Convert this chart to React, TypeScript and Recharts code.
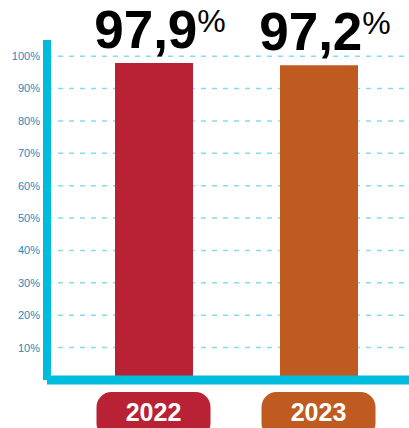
import React from 'react';
import { BarChart, Bar, XAxis, YAxis, CartesianGrid, Cell, LabelList } from 'recharts';

const years = ['2022', '2023'];
const rates = [97.9, 97.2];
const yTicks = [10, 20, 30, 40, 50, 60, 70, 80, 90, 100];

const BAR_COLORS = ['#b92234', '#bf5b20'];
const AXIS_COLOR = '#00bcdc';

const data = years.map((year, i) => ({ year, rate: rates[i] }));

const fmt = (v: number) => v.toFixed(1).replace('.', ',');

const YearTick = (props: any) => {
  const { x, y, payload, index } = props;
  const color = BAR_COLORS[index % BAR_COLORS.length];
  return (
    <g>
      <rect x={x - 57} y={y + 12} width={114} height={46} rx={15} ry={15} fill={color} />
      <text
        x={x}
        y={y + 41}
        textAnchor="middle"
        fill="#fff"
        fontSize={25}
        fontWeight="bold"
        fontFamily="'Liberation Sans', Arial, sans-serif"
      >
        {payload.value}
      </text>
    </g>
  );
};

const ValueLabel = (props: any) => {
  const { x, y, width, value } = props;
  return (
    <text
      x={x + width / 2 + 6}
      y={y - 15}
      textAnchor="middle"
      fill="#000"
      fontFamily="'Liberation Sans', Arial, sans-serif"
    >
      <tspan fontSize={53} fontWeight="bold">{fmt(value)}</tspan>
      <tspan fontSize={32} dy={-16}>%</tspan>
    </text>
  );
};

export default function App() {
  return (
    <div style={{ position: 'absolute', left: 0, top: 0, background: '#fff' }}>
      <BarChart
        width={409}
        height={428}
        data={data}
        margin={{ top: 40, right: 0, bottom: 0, left: 0 }}
        barSize={78}
      >
        <CartesianGrid
          horizontal
          vertical={false}
          horizontalValues={yTicks}
          stroke="#84dcef"
          strokeDasharray="5 6"
          strokeWidth={1.5}
        />
        <YAxis
          type="number"
          domain={[0, 105]}
          ticks={yTicks}
          width={47}
          tickFormatter={(v: number) => `${v}%`}
          tickLine={false}
          tickSize={0}
          tickMargin={7}
          axisLine={{ stroke: AXIS_COLOR, strokeWidth: 8 }}
          tick={{ fill: '#2787bd', fontSize: 11, fontFamily: "'Liberation Sans', Arial, sans-serif" }}
        />
        <XAxis
          dataKey="year"
          height={48}
          padding={{ left: 24, right: 8 }}
          tickLine={false}
          tickSize={0}
          tickMargin={0}
          axisLine={{ stroke: AXIS_COLOR, strokeWidth: 9 }}
          tick={<YearTick />}
          interval={0}
        />
        <Bar dataKey="rate" isAnimationActive={false}>
          {data.map((d, i) => (
            <Cell key={d.year} fill={BAR_COLORS[i]} />
          ))}
          <LabelList dataKey="rate" content={<ValueLabel />} />
        </Bar>
      </BarChart>
    </div>
  );
}
